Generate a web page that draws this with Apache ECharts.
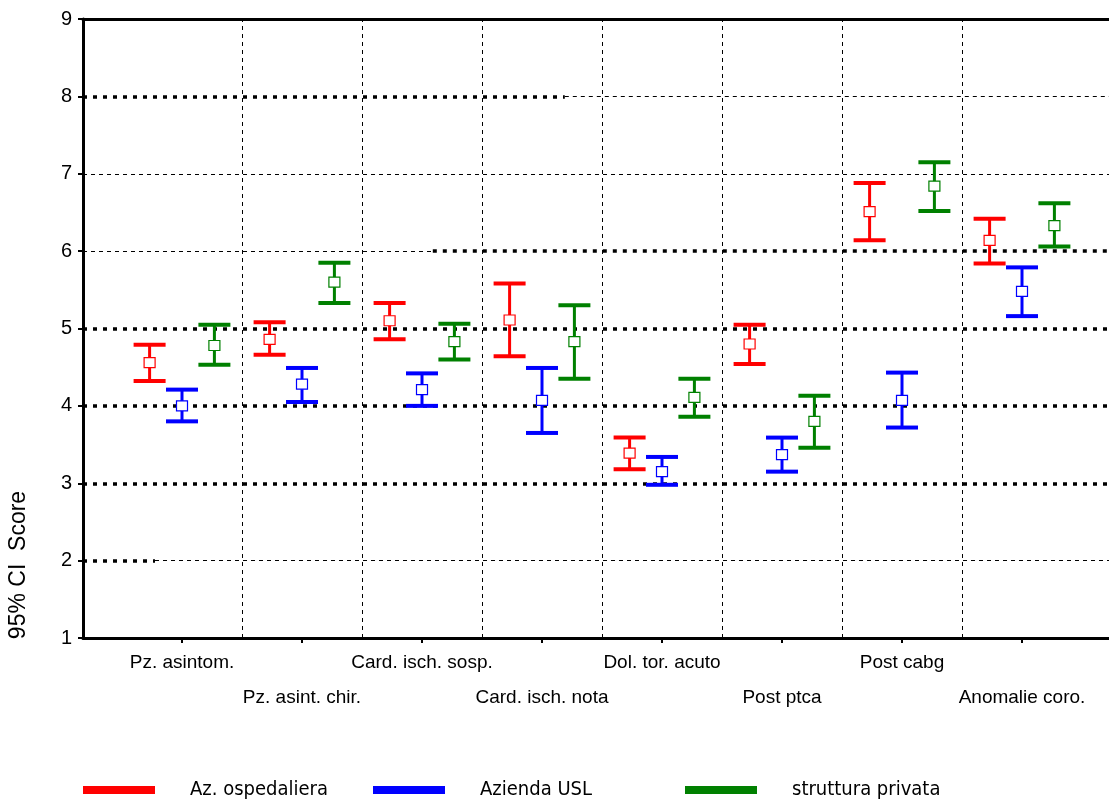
<!DOCTYPE html>
<html>
<head>
<meta charset="utf-8">
<script src="https://cdn.jsdelivr.net/npm/echarts@6/dist/echarts.min.js"></script>
<style>
  html, body { margin: 0; padding: 0; background: #fff; }
  #chart { width: 1109px; height: 801px; }
</style>
</head>
<body>
<div id="chart"></div>
<script>
// categorie (asse x)
const categories = [
  "Pz. asintom.", "Pz. asint. chir.", "Card. isch. sosp.", "Card. isch. nota",
  "Dol. tor. acuto", "Post ptca", "Post cabg", "Anomalie coro."
];

// Az. ospedaliera
const ospMean = [4.56, 4.86, 5.10, 5.11, 3.39, 4.80, 6.51, 6.14];
const ospLow  = [4.32, 4.66, 4.86, 4.64, 3.18, 4.54, 6.14, 5.84];
const ospHigh = [4.79, 5.08, 5.33, 5.58, 3.59, 5.05, 6.88, 6.42];

// Azienda USL
const uslMean = [4.00, 4.28, 4.21, 4.07, 3.15, 3.37, 4.07, 5.48];
const uslLow  = [3.80, 4.05, 4.00, 3.65, 2.98, 3.15, 3.72, 5.16];
const uslHigh = [4.21, 4.49, 4.42, 4.49, 3.34, 3.59, 4.43, 5.79];

// struttura privata
const privMean = [4.78, 5.60, 4.83, 4.83, 4.11, 3.80, 6.84, 6.33];
const privLow  = [4.53, 5.33, 4.60, 4.35, 3.86, 3.46, 6.52, 6.06];
const privHigh = [5.05, 5.85, 5.06, 5.30, 4.35, 4.13, 7.15, 6.62];

// tick asse y
const yTicks = [1, 2, 3, 4, 5, 6, 7, 8, 9];

// griglia orizzontale punteggiata spessa (livello y, da x, a x in unità categoria)
const dottedLevels = [8, 6, 5, 4, 3, 2];
const dottedFrom   = [-0.825, 2.09, -0.825, -0.825, -0.825, -0.825];
const dottedTo     = [3.19, 7.725, 7.725, 7.725, 7.725, -0.225];

// griglia orizzontale tratteggiata sottile (tratti restanti)
const dashedLevels = [8, 7, 6, 2];
const dashedFrom   = [3.19, -0.825, -0.825, -0.225];
const dashedTo     = [7.725, 7.725, 2.09, 7.725];

// separatori verticali tra categorie
const separators = [0.5, 1.5, 2.5, 3.5, 4.5, 5.5, 6.5];

const X_MIN = -0.825, X_MAX = 7.725;
const FONT = '"Liberation Sans", Arial, sans-serif';

const chart = echarts.init(document.getElementById("chart"));

function errorSeries(name, color, low, high, mean, offset) {
  return {
    name: name,
    type: "custom",
    itemStyle: { color: color },
    encode: { x: 0, y: [1, 2, 3] },
    data: categories.map((c, i) => [i, low[i], high[i], mean[i]]),
    z: 5,
    renderItem: (params, api) => {
      const unit = api.size([1, 0])[0];
      const lo = api.coord([api.value(0), api.value(1)]);
      const hi = api.coord([api.value(0), api.value(2)]);
      const mu = api.coord([api.value(0), api.value(3)]);
      const x = lo[0] + offset * unit;
      const half = 16;
      const lineStyle = { stroke: color, lineWidth: 3 };
      const capStyle = { stroke: color, lineWidth: 4 };
      return {
        type: "group",
        children: [
          { type: "line", shape: { x1: x, y1: lo[1], x2: x, y2: hi[1] }, style: lineStyle },
          { type: "line", shape: { x1: x - half, y1: hi[1], x2: x + half, y2: hi[1] }, style: capStyle },
          { type: "line", shape: { x1: x - half, y1: lo[1], x2: x + half, y2: lo[1] }, style: capStyle },
          { type: "rect", shape: { x: x - 5.5, y: mu[1] - 5, width: 11, height: 10 },
            style: { fill: "#fff", stroke: color, lineWidth: 1.2 } }
        ]
      };
    }
  };
}

function segmentSeries(name, levels, from, to, lineStyle, z) {
  return {
    name: name,
    type: "line",
    data: [],
    silent: true,
    z: z,
    markLine: {
      silent: true,
      symbol: "none",
      label: { show: false },
      animation: false,
      lineStyle: lineStyle,
      data: levels.map((y, i) => [
        { coord: [from[i], y] },
        { coord: [to[i], y] }
      ])
    }
  };
}

// separatori verticali tratteggiati
const sepSeries = {
  name: "sep",
  type: "line",
  data: [],
  silent: true,
  z: 2,
  markLine: {
    silent: true,
    symbol: "none",
    label: { show: false },
    animation: false,
    lineStyle: { color: "#000", width: 1, type: [4, 4] },
    data: separators.map(x => ({ xAxis: x }))
  }
};

const legendBase = {
  top: 775,
  icon: "rect",
  itemWidth: 72,
  itemHeight: 8,
  textStyle: {
    fontFamily: '"Liberation Sans Narrow", "DejaVu Sans Condensed", sans-serif',
    fontSize: 20,
    color: "#000",
    padding: [0, 0, 0, 30]
  }
};

const options = {
  animation: false,
  textStyle: { fontFamily: FONT },
  grid: { left: 83, right: 0, top: 19, bottom: 163 },
  legend: [
    Object.assign({}, legendBase, { left: 78, data: ["Az. ospedaliera"] }),
    Object.assign({}, legendBase, { left: 368, data: ["Azienda USL"] }),
    Object.assign({}, legendBase, { left: 680, data: ["struttura privata"] })
  ],
  xAxis: [
    {
      type: "value",
      min: X_MIN,
      max: X_MAX,
      position: "bottom",
      axisLine: { show: true, onZero: false, lineStyle: { color: "#000", width: 3 } },
      axisTick: {
        show: true, length: 5, lineStyle: { color: "#000", width: 2 },
        customValues: categories.map((c, i) => i)
      },
      axisLabel: {
        customValues: categories.map((c, i) => i),
        color: "#000",
        fontSize: 19,
        lineHeight: 35,
        margin: 7,
        formatter: (v) => {
          const i = Math.round(v);
          return i % 2 ? "\n" + categories[i] : categories[i];
        }
      },
      splitLine: { show: false }
    },
    {
      type: "value",
      min: X_MIN,
      max: X_MAX,
      position: "top",
      axisLine: { show: true, onZero: false, lineStyle: { color: "#000", width: 3 } },
      axisTick: { show: false },
      axisLabel: { show: false },
      splitLine: { show: false }
    }
  ],
  yAxis: {
    type: "value",
    min: yTicks[0],
    max: yTicks[yTicks.length - 1],
    interval: 1,
    axisLine: { show: true, onZero: false, lineStyle: { color: "#000", width: 3 } },
    axisTick: { show: true, length: 5, lineStyle: { color: "#000", width: 2 } },
    axisLabel: { color: "#000", fontSize: 20, margin: 11 },
    splitLine: { show: false }
  },
  graphic: [
    {
      type: "text",
      x: 19,
      y: 565,
      rotation: Math.PI / 2,
      style: {
        text: "95% CI  Score",
        fontFamily: FONT,
        fontSize: 23,
        fill: "#000",
        align: "center",
        verticalAlign: "middle"
      }
    }
  ],
  series: [
    sepSeries,
    segmentSeries("dashed", dashedLevels, dashedFrom, dashedTo,
      { color: "#000", width: 1, type: [4, 4] }, 2),
    segmentSeries("dotted", dottedLevels, dottedFrom, dottedTo,
      { color: "#000", width: 3.5, type: [4, 6], cap: "butt" }, 3),
    errorSeries("Az. ospedaliera", "#ff0000", ospLow, ospHigh, ospMean, -0.27),
    errorSeries("Azienda USL", "#0000ff", uslLow, uslHigh, uslMean, 0),
    errorSeries("struttura privata", "#008000", privLow, privHigh, privMean, 0.27)
  ]
};

chart.setOption(options);
</script>
</body>
</html>
